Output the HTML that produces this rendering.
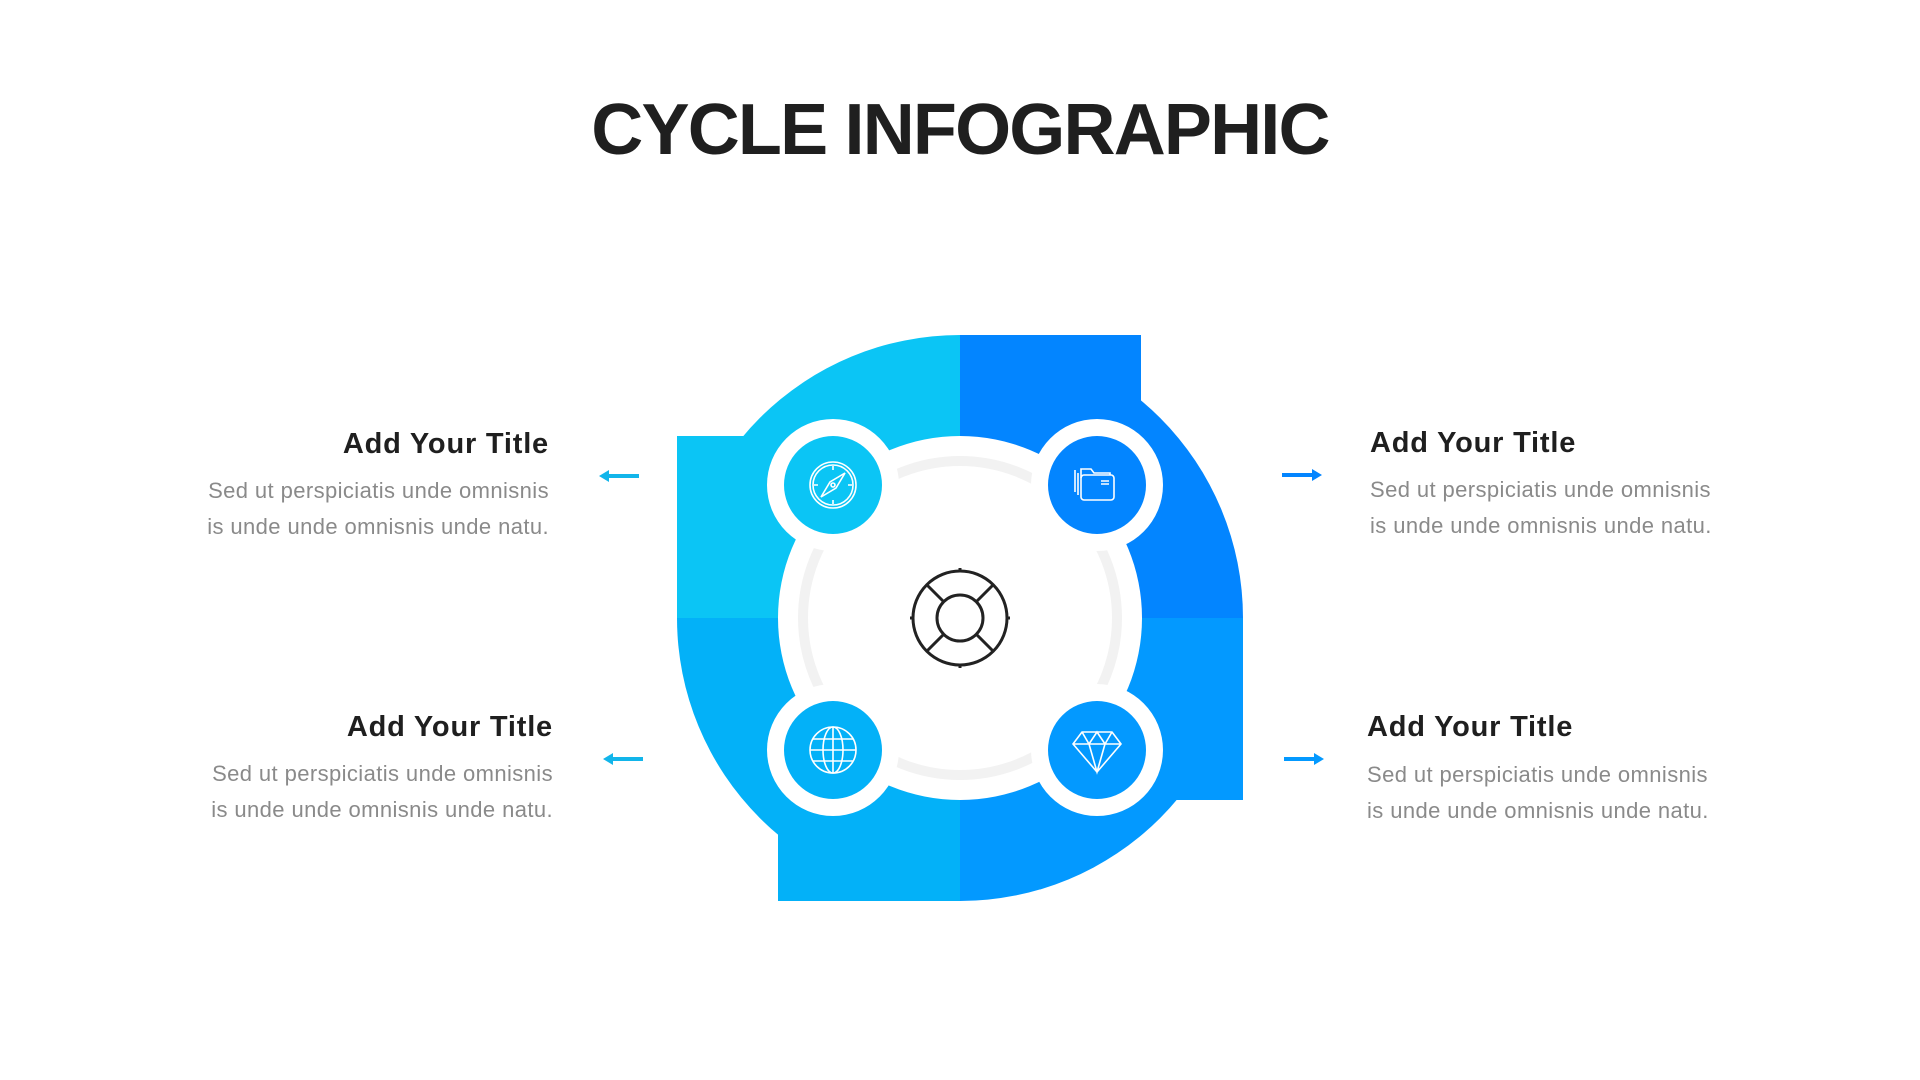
<!DOCTYPE html>
<html><head><meta charset="utf-8"><style>
html,body{margin:0;padding:0;background:#fff;}
svg{display:block;}
</style></head><body>
<svg width="1920" height="1080" viewBox="0 0 1920 1080" xmlns="http://www.w3.org/2000/svg" font-family="'Liberation Sans', sans-serif">
<text x="960" y="154" text-anchor="middle" font-size="72" font-weight="bold" fill="#1f1f1f" letter-spacing="-1.8">CYCLE INFOGRAPHIC</text>

<g>
<path d="M960 618 L960 335 A283 283 0 0 0 677 618 Z" fill="#0BC5F5"/>
<rect x="677" y="436" width="283" height="182" fill="#0BC5F5"/>
<path d="M960 618 L960 335 A283 283 0 0 1 1243 618 Z" fill="#0385FF"/>
<rect x="960" y="335" width="181" height="283" fill="#0385FF"/>
<path d="M960 618 L1243 618 A283 283 0 0 1 960 901 Z" fill="#0399FF"/>
<rect x="960" y="618" width="283" height="182" fill="#0399FF"/>
<path d="M960 618 L960 901 A283 283 0 0 1 677 618 Z" fill="#03B1F8"/>
<rect x="778" y="618" width="182" height="283" fill="#03B1F8"/>
</g>

<circle cx="960" cy="618" r="182" fill="#fff"/>
<circle cx="960" cy="618" r="157" fill="none" stroke="#f2f2f2" stroke-width="10"/>

<g fill="#fff">
<circle cx="833" cy="485" r="66"/>
<circle cx="1097" cy="485" r="66"/>
<circle cx="833" cy="750" r="66"/>
<circle cx="1097" cy="750" r="66"/>
</g>
<circle cx="833" cy="485" r="49" fill="#0BC5F5"/>
<circle cx="1097" cy="485" r="49" fill="#0385FF"/>
<circle cx="833" cy="750" r="49" fill="#03B1F8"/>
<circle cx="1097" cy="750" r="49" fill="#0399FF"/>

<g stroke="#fff" fill="none" stroke-width="1.6">
 <circle cx="833" cy="485" r="23"/><circle cx="833" cy="485" r="20"/>
 <path d="M845 473 L836 488 L821 497 L830 482 Z"/><circle cx="833" cy="485" r="2"/>
 <path d="M833 466v4M833 500v4M814 485h4M848 485h4"/>
 <rect x="1081" y="475" width="33" height="25" rx="3"/>
 <path d="M1081 478v-9h10l3 4h16v2"/><path d="M1078 473v22M1075 470v22"/>
 <path d="M1101 481h8M1101 484h8"/>
 <circle cx="833" cy="750" r="23"/><ellipse cx="833" cy="750" rx="10" ry="23"/>
 <path d="M833 727v46M810 750h46M813 739h40M813 761h40"/>
 <path d="M1073 744l9-12h30l9 12l-24 28z M1073 744h48M1082 732l7 12l8-12l8 12l7-12M1089 744l8 28l8-28"/>
</g>
<g stroke="#222" stroke-width="3" fill="none">
 <circle cx="960" cy="618" r="47"/><circle cx="960" cy="618" r="23"/>
 <path d="M943 601l-17-17M977 601l17-17M943 635l-17 17M977 635l17 17"/>
 <path d="M960 568v4M960 664v4M910 618h4M1006 618h4"/>
</g>

<g stroke-width="4">
<path d="M606 476H639" stroke="#12B5EA"/><path d="M599 476l10-6v12z" fill="#12B5EA"/>
<path d="M610 759H643" stroke="#12B5EA"/><path d="M603 759l10-6v12z" fill="#12B5EA"/>
<path d="M1282 475H1315" stroke="#0385FF"/><path d="M1322 475l-10-6v12z" fill="#0385FF"/>
<path d="M1284 759H1317" stroke="#0399FF"/><path d="M1324 759l-10-6v12z" fill="#0399FF"/>
</g>

<g font-size="29" font-weight="bold" fill="#1f1f1f" letter-spacing="0.8">
<text x="549" y="453" text-anchor="end">Add Your Title</text>
<text x="553" y="736" text-anchor="end">Add Your Title</text>
<text x="1370" y="452">Add Your Title</text>
<text x="1367" y="736">Add Your Title</text>
</g>
<g font-size="22" fill="#8a8a8a" letter-spacing="0.4">
<text x="549" y="498" text-anchor="end">Sed ut perspiciatis unde omnisnis</text>
<text x="549" y="534" text-anchor="end">is unde unde omnisnis unde natu.</text>
<text x="553" y="781" text-anchor="end">Sed ut perspiciatis unde omnisnis</text>
<text x="553" y="817" text-anchor="end">is unde unde omnisnis unde natu.</text>
<text x="1370" y="497">Sed ut perspiciatis unde omnisnis</text>
<text x="1370" y="533">is unde unde omnisnis unde natu.</text>
<text x="1367" y="782">Sed ut perspiciatis unde omnisnis</text>
<text x="1367" y="818">is unde unde omnisnis unde natu.</text>
</g>
</svg>
</body></html>
